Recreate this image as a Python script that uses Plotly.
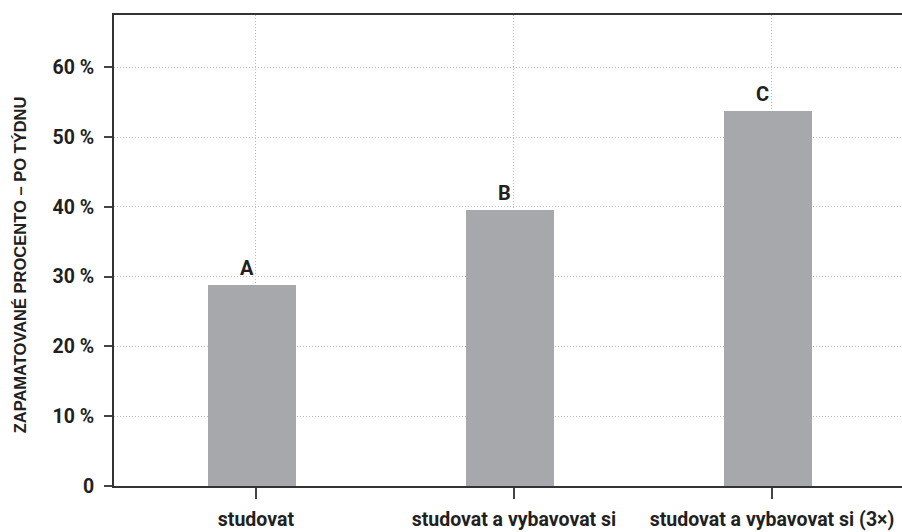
import plotly.graph_objects as go

# Retention after one week, by study method
categories = ["studovat", "studovat a vybavovat si", "studovat a vybavovat si (3×)"]
retained_pct = [28.85, 39.5, 53.7]
bar_letters = ["A", "B", "C"]

y_tick_vals = [0, 10, 20, 30, 40, 50, 60]
y_tick_text = ["0", "10 %", "20 %", "30 %", "40 %", "50 %", "60 %"]

y_title = "ZAPAMATOVANÉ PROCENTO – PO TÝDNU"

INK = "#231f20"
BAR = "#a7a8ab"
GRID = "#bdbdbd"
FONT = "Roboto"

fig = go.Figure()
fig.add_trace(go.Bar(
    x=categories,
    y=retained_pct,
    marker=dict(color=BAR, line=dict(width=0)),
    width=0.341,
    offset=-0.187,
    hoverinfo="skip",
))

for cat, val, letter in zip(categories, retained_pct, bar_letters):
    fig.add_annotation(
        x=cat, y=val, xref="x", yref="y",
        text=f"<b>{letter}</b>", showarrow=False,
        xanchor="center", yanchor="bottom",
        xshift=-9, yshift=3,
        font=dict(family=FONT, size=20, color=INK),
    )

fig.add_annotation(
    x=-0.119, y=0.469, xref="paper", yref="paper",
    text=f"<b>{y_title}</b>", textangle=-90, showarrow=False,
    xanchor="center", yanchor="middle",
    font=dict(family="Liberation Sans", size=16.5, color=INK),
)

fig.update_layout(
    width=902, height=532,
    margin=dict(l=114, r=0, t=15, b=46, pad=0),
    paper_bgcolor="white", plot_bgcolor="white",
    showlegend=False,
    bargap=0,
    font=dict(family=FONT, color=INK),
)

fig.update_xaxes(
    type="category",
    range=[-0.55, 2.504],
    automargin=False,
    tickangle=0,
    showline=True, linecolor="#333333", linewidth=2, mirror=True,
    ticks="outside", ticklen=11, tickwidth=2, tickcolor="#444444",
    showgrid=True, gridcolor=GRID, griddash="1px,2px", gridwidth=1,
    tickfont=dict(family=FONT, size=19.5, color=INK, weight="bold"),
    ticklabelstandoff=4,
    zeroline=False,
)

fig.update_yaxes(
    range=[0, 67.5],
    automargin=False,
    tickvals=y_tick_vals, ticktext=y_tick_text,
    showline=True, linecolor="#333333", linewidth=2, mirror=False,
    ticks="outside", ticklen=8, tickwidth=2, tickcolor="#444444",
    showgrid=True, gridcolor=GRID, griddash="1px,2px", gridwidth=1,
    tickfont=dict(family=FONT, size=19.5, color=INK, weight="bold"),
    ticklabelstandoff=6,
    zeroline=False,
)

fig.write_html("out.html")
